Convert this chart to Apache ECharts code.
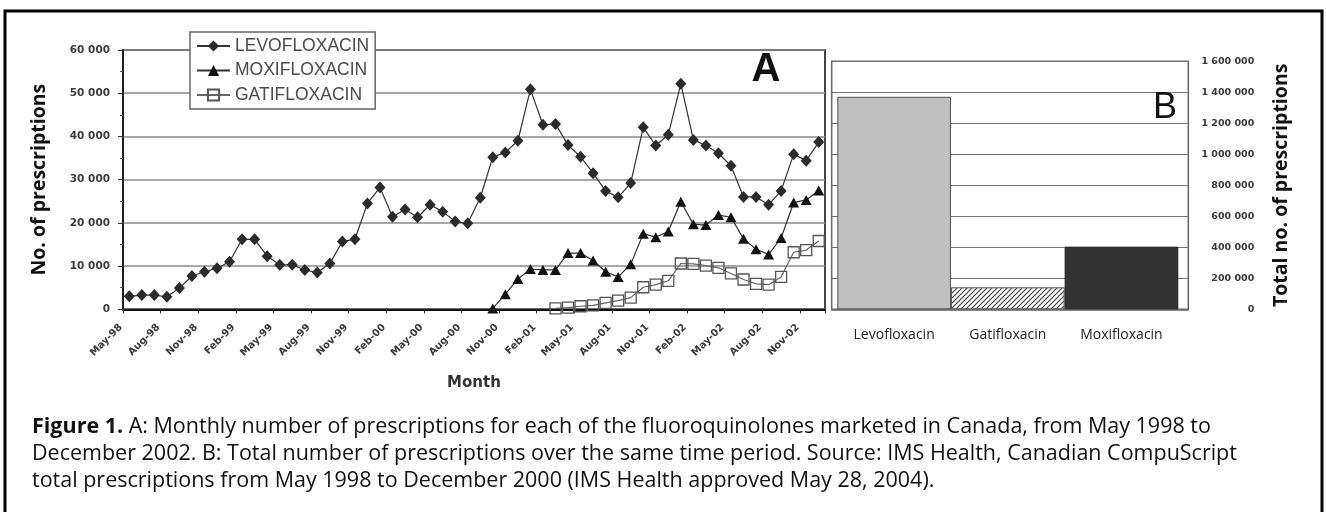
<!DOCTYPE html>
<html><head><meta charset="utf-8">
<script src="https://cdn.jsdelivr.net/npm/echarts@6/dist/echarts.min.js"></script>
<style>html,body{margin:0;padding:0;background:#fff}#c{width:1326px;height:512px}</style>
</head><body><div id="c"></div>
<script>
// ---- data ----
const months = ['May-98','Jun-98','Jul-98','Aug-98','Sep-98','Oct-98','Nov-98','Dec-98',
  'Jan-99','Feb-99','Mar-99','Apr-99','May-99','Jun-99','Jul-99','Aug-99','Sep-99','Oct-99','Nov-99','Dec-99',
  'Jan-00','Feb-00','Mar-00','Apr-00','May-00','Jun-00','Jul-00','Aug-00','Sep-00','Oct-00','Nov-00','Dec-00',
  'Jan-01','Feb-01','Mar-01','Apr-01','May-01','Jun-01','Jul-01','Aug-01','Sep-01','Oct-01','Nov-01','Dec-01',
  'Jan-02','Feb-02','Mar-02','Apr-02','May-02','Jun-02','Jul-02','Aug-02','Sep-02','Oct-02','Nov-02','Dec-02'];
const levofloxacin = [3000,3300,3300,2900,4900,7700,8700,9500,
  11000,16200,16200,12300,10300,10300,9100,8500,10600,15700,16200,24500,
  28200,21400,23100,21300,24200,22600,20300,19900,25800,35200,36300,39000,
  50900,42700,42900,38000,35300,31500,27400,25900,29200,42100,37900,40400,
  52200,39200,37900,36100,33200,26000,26000,24200,27400,35900,34400,38700];
const moxifloxacin = [null,null,null,null,null,null,null,null,
  null,null,null,null,null,null,null,null,null,null,null,null,
  null,null,null,null,null,null,null,null,null,200,3500,7000,
  9300,9100,9100,13000,13000,11300,8700,7500,10400,17500,16700,18000,
  24900,19700,19500,21800,21300,16300,13900,12700,16500,24700,25300,27500];
const gatifloxacin = [null,null,null,null,null,null,null,null,
  null,null,null,null,null,null,null,null,null,null,null,null,
  null,null,null,null,null,null,null,null,null,null,null,null,
  null,null,200,400,700,900,1500,2000,2700,5100,5700,6600,
  10600,10500,10100,9600,8300,6900,5900,5700,7500,13200,13700,15800];
const drugs = ['Levofloxacin','Gatifloxacin','Moxifloxacin'];
const totals = [1371000,142000,404000];

// ---- styling helpers ----
const fmt = v => String(v).replace(/\B(?=(\d{3})+(?!\d))/g, ' ');
function hatch(){
  const c = document.createElement('canvas'); c.width = 5; c.height = 5;
  const g = c.getContext('2d');
  g.fillStyle = '#fff'; g.fillRect(0,0,5,5);
  g.strokeStyle = '#3a3a3a'; g.lineWidth = 1.1;
  g.beginPath();
  g.moveTo(0,5); g.lineTo(5,0);
  g.moveTo(-2.5,2.5); g.lineTo(2.5,-2.5);
  g.moveTo(2.5,7.5); g.lineTo(7.5,2.5);
  g.stroke();
  return c;
}
const barStyles = [
  {color:'#c0c0c0', borderColor:'#555', borderWidth:1},
  {color:{image:hatch(), repeat:'repeat'}, borderColor:'#555', borderWidth:1},
  {color:'#333333', borderColor:'#222', borderWidth:1}
];
const tickFont = {fontFamily:'DejaVu Sans', fontWeight:'bold', color:'#3a3a3a'};
const titleFont = {fontFamily:'Open Sans', fontWeight:'bold', fontSize:19.5, color:'#111'};

const chart = echarts.init(document.getElementById('c'), null, {renderer:'canvas'});
chart.setOption({
  animation:false,
  backgroundColor:'#fff',
  grid:[
    {left:123, top:50, width:702, height:259.3, show:true, borderColor:'#444', borderWidth:2, outerBoundsMode:'none', containLabel:false},
    {left:831.7, top:61.3, width:356.6, height:248, show:true, borderColor:'#666', borderWidth:1.5, outerBoundsMode:'none', containLabel:false},
    {left:837.3, top:61.3, width:341, height:248, show:false, outerBoundsMode:'none', containLabel:false}
  ],
  legend:{
    left:190, top:32, orient:'vertical', padding:[5,6,5,6],
    backgroundColor:'#fff', borderColor:'#666', borderWidth:1.5,
    itemWidth:33, itemHeight:14, itemGap:6.5,
    data:['LEVOFLOXACIN','MOXIFLOXACIN','GATIFLOXACIN'],
    textStyle:{fontFamily:'Liberation Sans', fontSize:17.5, color:'#4a4a4a', lineHeight:18}
  },
  xAxis:[
    {gridIndex:0, type:'category', data:months, boundaryGap:true,
     axisLine:{show:true, lineStyle:{color:'#111', width:2}},
     axisTick:{show:true, interval:2, length:4, lineStyle:{color:'#333'}},
     axisLabel:{interval:2, rotate:45, margin:8, padding:[0,12,0,0], fontSize:10, ...tickFont, hideOverlap:false},
     splitLine:{show:false},
     name:'Month', nameLocation:'middle', nameGap:66,
     nameTextStyle:{fontFamily:'DejaVu Sans', fontWeight:'bold', fontSize:15, color:'#333'}},
    {gridIndex:1, type:'category', data:drugs,
     axisLine:{show:true, lineStyle:{color:'#666', width:1.5}}, axisTick:{show:false}, axisLabel:{show:false}, splitLine:{show:false}},
    {gridIndex:2, type:'category', data:drugs, boundaryGap:true,
     axisLine:{show:false}, axisTick:{show:false}, splitLine:{show:false},
     axisLabel:{margin:19, fontFamily:'Open Sans', fontSize:14, color:'#222'}}
  ],
  yAxis:[
    {gridIndex:0, type:'value', min:0, max:60000, interval:10000,
     axisLine:{show:true, lineStyle:{color:'#111', width:1.5}},
     axisTick:{show:true, length:5, lineStyle:{color:'#333'}},
     minorTick:{show:true, splitNumber:2, length:3, lineStyle:{color:'#555'}},
     splitLine:{show:true, lineStyle:{color:'#8a8a8a', width:1.5}},
     axisLabel:{margin:13, formatter:fmt, fontSize:10.5, ...tickFont},
     name:'No. of prescriptions', nameLocation:'middle', nameGap:74, nameRotate:90,
     nameTextStyle:titleFont},
    {gridIndex:1, type:'value', position:'right', min:0, max:1600000, interval:200000,
     axisLine:{show:false}, axisTick:{show:false},
     splitLine:{show:true, lineStyle:{color:'#777', width:1.2}},
     axisLabel:{margin:66, align:'right', formatter:fmt, fontSize:9.5, ...tickFont},
     name:'Total no. of prescriptions', nameLocation:'middle', nameGap:83, nameRotate:90,
     nameTextStyle:titleFont},
    {gridIndex:1, type:'value', position:'left', min:0, max:1600000, interval:200000,
     axisLine:{show:false}, axisTick:{show:true, inside:true, length:5, lineStyle:{color:'#666'}},
     axisLabel:{show:false}, splitLine:{show:false}},
    {gridIndex:2, type:'value', min:0, max:1600000, interval:200000, show:false}
  ],
  series:[
    {name:'LEVOFLOXACIN', type:'line', xAxisIndex:0, yAxisIndex:0, data:levofloxacin,
     symbol:'diamond', symbolSize:[11,12], showAllSymbol:true, z:4,
     lineStyle:{color:'#333', width:1.2}, itemStyle:{color:'#2b2b2b'}},
    {name:'MOXIFLOXACIN', type:'line', xAxisIndex:0, yAxisIndex:0, data:moxifloxacin,
     symbol:'triangle', symbolSize:[11,10], showAllSymbol:true, z:4,
     lineStyle:{color:'#333', width:1.2}, itemStyle:{color:'#111'}},
    {name:'GATIFLOXACIN', type:'line', xAxisIndex:0, yAxisIndex:0, data:gatifloxacin,
     symbol:'rect', symbolSize:11, showAllSymbol:true, z:3,
     lineStyle:{color:'#666', width:1.2}, itemStyle:{color:'rgba(255,255,255,0)', borderColor:'#555', borderWidth:1.3}},
    {type:'bar', xAxisIndex:2, yAxisIndex:3, barCategoryGap:0, z:3,
     data:totals.map((v,i)=>({value:v, itemStyle:barStyles[i]}))}
  ],
  graphic:[
    {type:'rect', shape:{x:5, y:11, width:1317, height:530}, style:{fill:'none', stroke:'#000', lineWidth:3}, z:100, silent:true},
    {type:'text', x:766, y:70, style:{text:'A', font:'bold 40px "Liberation Sans"', fill:'#111', textAlign:'center', textVerticalAlign:'middle'}, z:100},
    {type:'text', x:1165, y:108, style:{text:'B', font:'36px "Liberation Sans"', fill:'#111', textAlign:'center', textVerticalAlign:'middle'}, z:100},
    {type:'text', left:32, top:416, z:100, style:{
      text:'{b|Figure 1.}{n| A: Monthly number of prescriptions for each of the fluoroquinolones marketed in Canada, from May 1998 to}\n' +
           '{n|December 2002. B: Total number of prescriptions over the same time period. Source: IMS Health, Canadian CompuScript}\n' +
           '{n|total prescriptions from May 1998 to December 2000 (IMS Health approved May 28, 2004).}',
      rich:{
        b:{fontFamily:'Open Sans', fontWeight:'bold', fontSize:21.5, lineHeight:27, fill:'#111'},
        n:{fontFamily:'Open Sans', fontSize:21.5, lineHeight:27, fill:'#111'}
      }}}
  ]
});
</script>
</body></html>
